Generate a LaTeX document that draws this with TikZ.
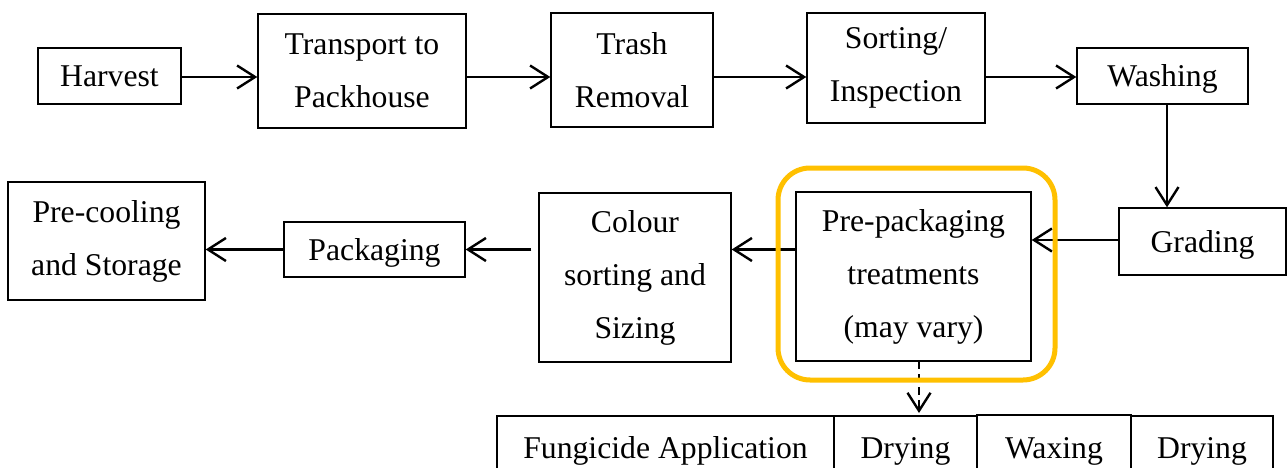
\documentclass[tikz,border=0pt]{standalone}
\usepackage{fontspec}
\setmainfont{Liberation Serif}
\usepackage{tikz}
\usetikzlibrary{arrows.meta,positioning,calc}
\usepackage{xcolor}
\definecolor{hiorange}{RGB}{255,192,0}
\newcommand{\flowfont}{\fontsize{31.7}{53}\selectfont}

\begin{document}
\begin{tikzpicture}[
    x=1pt, y=-1pt,
    stage/.style={rectangle, draw, line width=1.4pt, inner sep=0pt, align=center,
                  font=\flowfont},
    oneline/.style={stage, execute at begin node=\strut},
    arrow/.style={-{Straight Barb[length=18pt, width=23pt, line width=2.4pt]}, line width=2.7pt},
    dasharrow/.style={arrow, line width=2.2pt, dash pattern=on 8pt off 5pt}
]
\clip (0,0) rectangle (1287,468);

% top row
\node[oneline, minimum width=143pt, minimum height=56pt] (harvest) at (109.5, 76) {Harvest};
\node[stage, minimum width=208pt, minimum height=114pt] (transport) at (362, 71) {Transport to\\Packhouse};
\node[stage, minimum width=162pt, minimum height=114pt] (trash) at (632, 70) {Trash\\Removal};
\node[stage, minimum width=178pt, minimum height=110pt] (sorting) at (896, 68) {Sorting/\\Inspection};
\node[oneline, minimum width=171pt, minimum height=56pt] (washing) at (1162.5, 76) {Washing};

% middle row
\node[oneline, minimum width=167pt, minimum height=67pt] (grading) at (1202.5, 241.5) {Grading};
\node[stage, minimum width=235pt, minimum height=169pt] (prepack) at (913.5, 276.5) {Pre-packaging\\treatments\\(may vary)};
\node[stage, minimum width=192pt, minimum height=169pt] (colour) at (635, 277.5) {Colour\\sorting and\\Sizing};
\node[oneline, minimum width=181pt, minimum height=55pt] (packaging) at (374.5, 249.5) {Packaging};
\node[stage, minimum width=197pt, minimum height=118pt] (precool) at (106.5, 241) {Pre-cooling\\and Storage};

% treatment steps
\node[oneline, minimum width=337pt, minimum height=64pt] (fungicide) at (665.5, 448) {Fungicide Application};
\node[oneline, minimum width=143pt, minimum height=64pt] (dryingA) at (905.5, 448) {Drying};
\node[oneline, minimum width=154pt, minimum height=65pt] (waxing) at (1054, 447.5) {Waxing};
\node[oneline, minimum width=142pt, minimum height=64pt] (dryingB) at (1202, 448) {Drying};

\coordinate (washdown) at (1167, 104);
\coordinate (treatdown) at (919, 361);

\draw[arrow] (harvest.east |- 0,77) -- (transport.west |- 0,77);
\draw[arrow] (transport.east |- 0,77) -- (trash.west |- 0,77);
\draw[arrow] (trash.east |- 0,77) -- (sorting.west |- 0,77);
\draw[arrow] (sorting.east |- 0,77) -- (washing.west |- 0,77);
\draw[arrow, line width=1.8pt] (washdown) -- (washdown |- grading.north);
\draw[arrow] (grading.west |- 0,240) -- (prepack.east |- 0,240);
\draw[arrow] (prepack.west |- packaging) -- (colour.east |- packaging);
\draw[arrow, shorten <=7pt] (colour.west |- packaging) -- (packaging.east);
\draw[arrow] (packaging.west) -- (packaging.west -| precool.east);
\draw[dasharrow] (treatdown) -- (treatdown |- 0,413);

% highlight
\draw[hiorange, line width=5pt, rounded corners=32pt] (778,168) rectangle (1055,380);

\end{tikzpicture}
\end{document}
